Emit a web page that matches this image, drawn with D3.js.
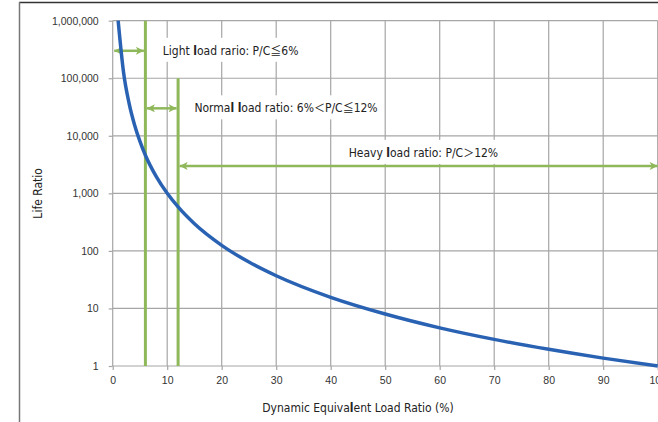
<!DOCTYPE html>
<html>
<head>
<meta charset="utf-8">
<script src="https://cdn.jsdelivr.net/npm/d3@7"></script>
<style>
  html, body { margin: 0; padding: 0; background: #fff; }
  svg { display: block; }
  .num { font-family: "Liberation Sans", Arial, sans-serif; font-size: 10.5px; fill: #333; }
  .narrow { font-family: "Liberation Sans Narrow", "Arial Narrow", "DejaVu Sans Condensed", sans-serif; font-size: 12px; fill: #222; }
  .cjk { font-family: "Noto Sans CJK JP", sans-serif; }
</style>
</head>
<body>
<svg id="chart" width="658" height="422"></svg>
<script>
// Load ratio (%) against life ratio
const loadRatio = [1, 2, 3, 4, 5, 6, 8, 10, 12, 15, 20, 25, 30, 40, 50, 60, 70, 80, 90, 100];
const lifeRatio = [1000000, 125000, 37000, 15600, 8000, 4600, 1950, 1000, 580, 296, 125, 64, 37, 15.6, 8, 4.6, 2.9, 1.95, 1.37, 1];

const xTicks = [0, 10, 20, 30, 40, 50, 60, 70, 80, 90, 100];
const yTicks = [1, 10, 100, 1000, 10000, 100000, 1000000];

// Load-zone boundaries (%), bracket ranges and the level each bracket sits at
const zoneNames = ["light", "normal", "heavy"];
const zoneFrom = [0, 6, 12];
const zoneTo = [6, 12, 100];
const zoneLevel = [300000, 30000, 3000];
const zoneText = ["Light load rario: P/C≦6%", "Normal load ratio: 6%＜P/C≦12%", "Heavy load ratio: P/C＞12%"];
const zoneTextX = [9.2, 15, 43.3];
const boundaryAt = [6, 12];
const boundaryTop = [1000000, 100000];

const svg = d3.select("#chart");
const x = d3.scaleLinear().domain([0, 100]).range([112.7, 657.7]);
const y = d3.scaleLog().domain([1, 1000000]).range([366, 20.7]);

const green = "#8fb85a";
const blue = "#2a62b3";
const grid = "#a6a6a6";

// outer frame (top and left edges)
svg.append("line").attr("x1", 19).attr("x2", 658).attr("y1", 2.5).attr("y2", 2.5)
  .attr("stroke", "#333").attr("stroke-width", 1.5);
svg.append("line").attr("x1", 19.5).attr("x2", 19.5).attr("y1", 2).attr("y2", 422)
  .attr("stroke", "#777").attr("stroke-width", 1.5);

// gridlines
const gGrid = svg.append("g");
gGrid.selectAll(".hg").data(yTicks).join("line")
  .attr("x1", x(0)).attr("x2", x(100))
  .attr("y1", d => y(d)).attr("y2", d => y(d))
  .attr("stroke", grid).attr("stroke-width", 1.2);
gGrid.selectAll(".vg").data(xTicks).join("line")
  .attr("x1", d => x(d)).attr("x2", d => x(d))
  .attr("y1", y(1)).attr("y2", y(1000000))
  .attr("stroke", grid).attr("stroke-width", 1.2);

// axes
const yAxis = d3.axisLeft(y).tickValues(yTicks).tickSize(4).tickPadding(10)
  .tickFormat(d3.format(","));
const gy = svg.append("g").attr("transform", `translate(${x(0)},0)`).call(yAxis);
const xAxis = d3.axisBottom(x).tickValues(xTicks).tickSize(4).tickPadding(7);
const gx = svg.append("g").attr("transform", `translate(0,${y(1)})`).call(xAxis);
[gx, gy].forEach(g => {
  g.select(".domain").remove();
  g.selectAll(".tick line").attr("stroke", grid).attr("stroke-width", 1.2);
  g.selectAll(".tick text").attr("class", "num").attr("fill", null);
});

// axis titles
svg.append("text").attr("class", "narrow")
  .attr("transform", `translate(42,${(y(1) + y(1000000)) / 2}) rotate(-90)`)
  .attr("text-anchor", "middle").text("Life Ratio");
const xt = svg.append("text").attr("class", "narrow")
  .attr("x", 358).attr("y", 412).attr("text-anchor", "middle");
xt.append("tspan").text("Dynamic Equiva");
xt.append("tspan").attr("font-weight", "bold").text("l");
xt.append("tspan").text("ent Load Ratio (%)");

// zone labels on white boxes
const labelOffset = [4, 4, -9];
const gLab = svg.append("g");
zoneText.forEach((t, i) => {
  const g = gLab.append("g");
  const txt = g.append("text").attr("class", "narrow")
    .attr("x", x(zoneTextX[i])).attr("y", y(zoneLevel[i]) + labelOffset[i]);
  // split into runs: heavier "l" glyphs and full-width comparison signs
  const marked = (i === 1 ? t.replace("Normal", "Norma\u0001") : t).replace(/l(?=oad)/, "\u0001");
  marked.split(/(\u0001|[＜＞≦])/).forEach(p => {
    if (p === "") return;
    if (p === "\u0001") txt.append("tspan").attr("font-weight", "bold").text("l");
    else if (/[＜＞≦]/.test(p)) txt.append("tspan").attr("class", "cjk").attr("font-size", 11).text(p);
    else txt.append("tspan").text(p);
  });
  const bb = txt.node().getBBox();
  g.insert("rect", "text")
    .attr("x", bb.x - 5).attr("y", bb.y - 4)
    .attr("width", bb.width + 10).attr("height", bb.height + 8)
    .attr("fill", "#fff");
});

// boundary lines
svg.selectAll(".bnd").data(boundaryAt).join("line")
  .attr("x1", d => x(d)).attr("x2", d => x(d))
  .attr("y1", y(1)).attr("y2", (d, i) => y(boundaryTop[i]))
  .attr("stroke", green).attr("stroke-width", 3);

// arrowheads
const defs = svg.append("defs");
["start", "end"].forEach(k => {
  defs.append("marker").attr("id", "arr-" + k)
    .attr("viewBox", "0 0 10 10").attr("refX", k === "end" ? 10 : 0).attr("refY", 5)
    .attr("markerWidth", 3.4).attr("markerHeight", 3.2).attr("markerUnits", "strokeWidth")
    .attr("orient", "auto")
    .append("path")
    .attr("d", k === "end" ? "M0,0 L10,5 L0,10 L2.5,5 Z" : "M10,0 L0,5 L10,10 L7.5,5 Z")
    .attr("fill", green);
});
svg.selectAll(".zone").data(zoneNames).join("line")
  .attr("x1", (d, i) => x(zoneFrom[i]) + 1.5).attr("x2", (d, i) => x(zoneTo[i]) - (i === 2 ? 0 : 1.5))
  .attr("y1", (d, i) => y(zoneLevel[i])).attr("y2", (d, i) => y(zoneLevel[i]))
  .attr("stroke", green).attr("stroke-width", 2.5)
  .attr("marker-start", "url(#arr-start)").attr("marker-end", "url(#arr-end)");

// life curve
const pts = loadRatio.map((v, i) => [v, lifeRatio[i]]);
const line = d3.line().x(d => x(d[0])).y(d => y(d[1])).curve(d3.curveMonotoneX);
svg.append("path").datum(pts).attr("d", line)
  .attr("fill", "none").attr("stroke", blue).attr("stroke-width", 3.5);
</script>
</body>
</html>
